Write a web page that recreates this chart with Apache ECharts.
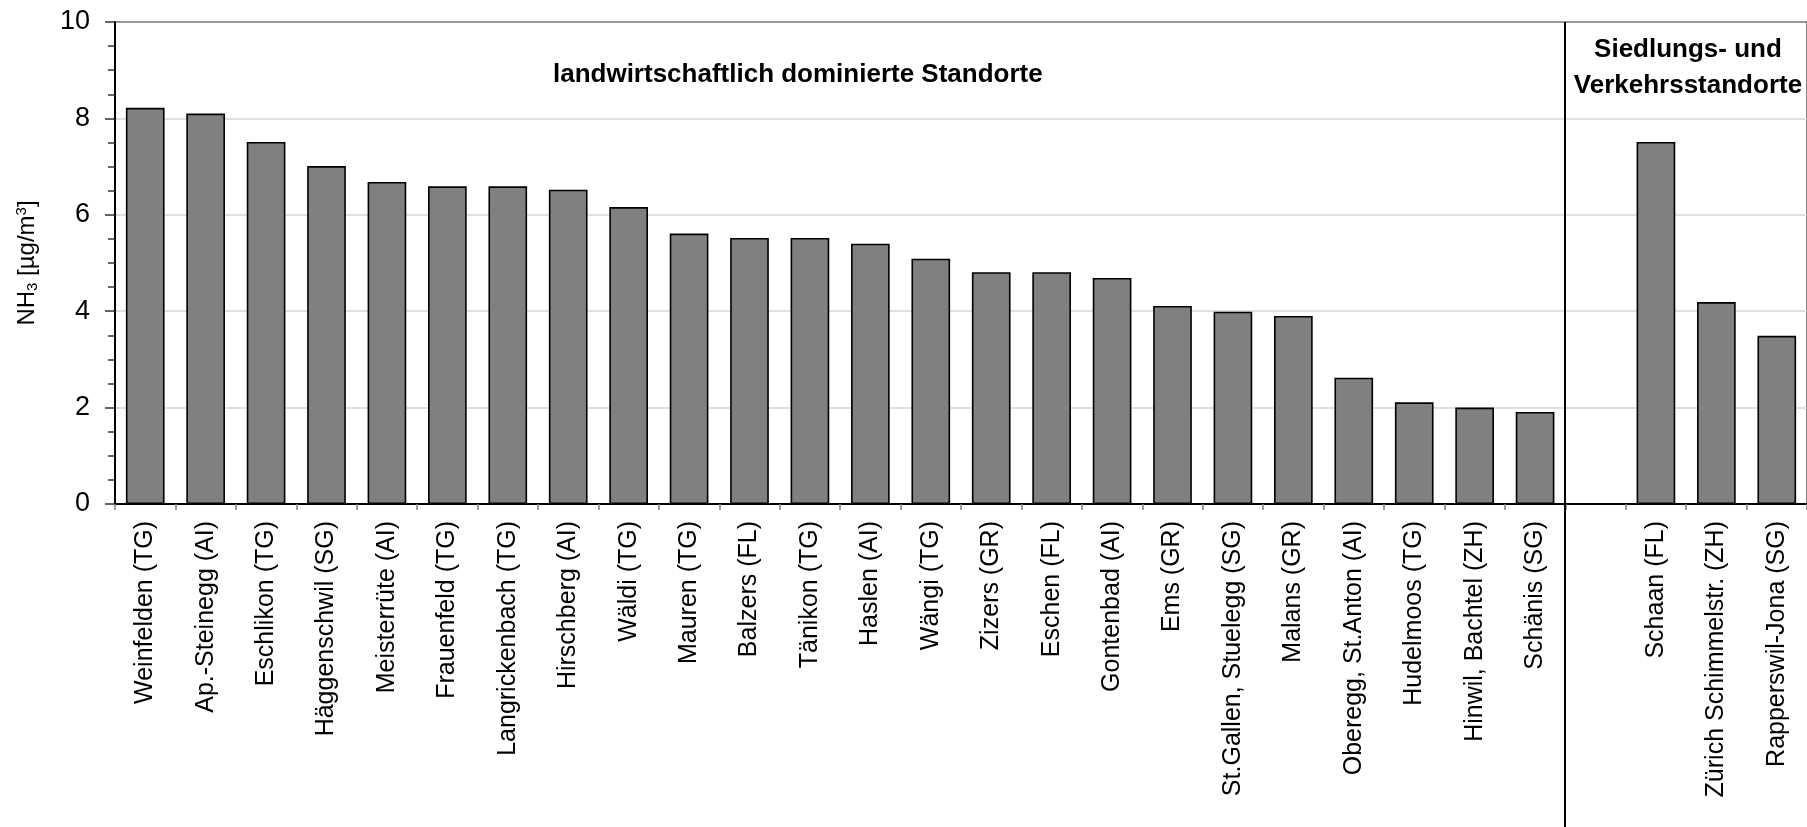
<!DOCTYPE html>
<html>
<head>
<meta charset="utf-8">
<script src="https://cdn.jsdelivr.net/npm/echarts@6/dist/echarts.min.js"></script>
<style>
html,body{margin:0;padding:0;background:#fff;}
#c{width:1807px;height:827px;}
</style>
</head>
<body>
<div id="c"></div>
<script>
const categories = [
  'Weinfelden (TG)','Ap.-Steinegg (AI)','Eschlikon (TG)','Häggenschwil (SG)','Meisterrüte (AI)',
  'Frauenfeld (TG)','Langrickenbach (TG)','Hirschberg (AI)','Wäldi (TG)','Mauren (TG)',
  'Balzers (FL)','Tänikon (TG)','Haslen (AI)','Wängi (TG)','Zizers (GR)','Eschen (FL)',
  'Gontenbad (AI)','Ems (GR)','St.Gallen, Stuelegg (SG)','Malans (GR)','Oberegg, St.Anton (AI)',
  'Hudelmoos (TG)','Hinwil, Bachtel (ZH)','Schänis (SG)',
  '',
  'Schaan (FL)','Zürich Schimmelstr. (ZH)','Rapperswil-Jona (SG)'
];
const values = [
  8.22, 8.10, 7.51, 7.01, 6.68,
  6.59, 6.59, 6.52, 6.16, 5.61,
  5.52, 5.52, 5.40, 5.09, 4.81, 4.81,
  4.69, 4.11, 3.99, 3.90, 2.62,
  2.11, 2.00, 1.91,
  null,
  7.51, 4.19, 3.49
];
const yTicks = { min: 0, max: 10, interval: 2 };
const groupLabels = ['landwirtschaftlich dominierte Standorte', 'Siedlungs- und\nVerkehrsstandorte'];
const separatorAfter = 'Schänis (SG)';

const FONT = "'Liberation Sans', Arial, sans-serif";
const chart = echarts.init(document.getElementById('c'), null, {renderer: 'canvas'});

chart.setOption({
  animation: false,
  backgroundColor: '#fff',
  grid: {
    left: 115, top: 22, width: 1694, height: 482,
    show: true, borderColor: '#333', borderWidth: 1.2, backgroundColor: 'transparent'
  },
  xAxis: {
    type: 'category',
    data: categories,
    axisLine: { lineStyle: { color: '#000', width: 2 } },
    axisTick: { show: true, interval: 0, length: 6, alignWithLabel: false, lineStyle: { color: '#808080', width: 1.5 } },
    axisLabel: {
      interval: 0, rotate: 90, margin: 17,
      fontFamily: FONT, fontSize: 25, color: '#000'
    },
    splitLine: { show: false }
  },
  yAxis: {
    type: 'value',
    min: yTicks.min, max: yTicks.max, interval: yTicks.interval,
    name: '{a|NH}{s|3}{a| [µg/m}{p|3}{a|]}',
    nameLocation: 'middle',
    nameRotate: 90,
    nameGap: 72,
    nameTextStyle: {
      fontFamily: FONT, color: '#000',
      rich: {
        a: { fontFamily: FONT, fontSize: 24, color: '#000', lineHeight: 32, verticalAlign: 'middle' },
        s: { fontFamily: FONT, fontSize: 15, color: '#000', lineHeight: 32, verticalAlign: 'bottom', padding: [0, 0, 3, 0] },
        p: { fontFamily: FONT, fontSize: 15, color: '#000', lineHeight: 32, verticalAlign: 'top', padding: [3, 0, 0, 0] }
      }
    },
    axisLine: { show: true, lineStyle: { color: '#000', width: 2 } },
    axisTick: { show: true, inside: false, length: 10, lineStyle: { color: '#333', width: 1.5 } },
    minorTick: { show: true, splitNumber: 4, length: 7, lineStyle: { color: '#333', width: 1.5 } },
    axisLabel: { fontFamily: FONT, fontSize: 27, color: '#000', margin: 25 },
    splitLine: { show: true, showMinLine: false, showMaxLine: false, lineStyle: { color: '#d6d6d6', width: 1.5 } }
  },
  series: [{
    type: 'bar',
    data: values,
    barWidth: '64%',
    itemStyle: { color: '#808080', borderColor: '#000', borderWidth: 1.6 },
    silent: true
  }]
});

function placeExtras() {
  const i = categories.indexOf(separatorAfter);
  const x1 = chart.convertToPixel({ xAxisIndex: 0 }, categories[i]);
  const x2 = chart.convertToPixel({ xAxisIndex: 0 }, categories[i + 1]);
  const sepX = Math.round((x1 + x2) / 2);
  const yTop = chart.convertToPixel({ yAxisIndex: 0 }, yTicks.max);
  const step = x2 - x1;
  const x0 = chart.convertToPixel({ xAxisIndex: 0 }, categories[0]);
  const yTitle = chart.convertToPixel({ yAxisIndex: 0 }, 8.9);
  const yTitle2 = chart.convertToPixel({ yAxisIndex: 0 }, 9.05);
  chart.setOption({
    graphic: [
      {
        type: 'line', z: 100, silent: true,
        shape: { x1: sepX, y1: yTop, x2: sepX, y2: 827 },
        style: { stroke: '#000', lineWidth: 2 }
      },
      {
        type: 'text', z: 100, silent: true,
        x: x0 + step * 10.8, y: yTitle,
        style: {
          text: groupLabels[0], fontFamily: FONT, fontSize: 26, fontWeight: 'bold',
          fill: '#000', align: 'center', verticalAlign: 'middle'
        }
      },
      {
        type: 'text', z: 100, silent: true,
        x: x0 + step * 25.53, y: yTitle2,
        style: {
          text: groupLabels[1], fontFamily: FONT, fontSize: 26, fontWeight: 'bold',
          fill: '#000', align: 'center', verticalAlign: 'middle', lineHeight: 36
        }
      }
    ]
  });
}
placeExtras();
</script>
</body>
</html>
